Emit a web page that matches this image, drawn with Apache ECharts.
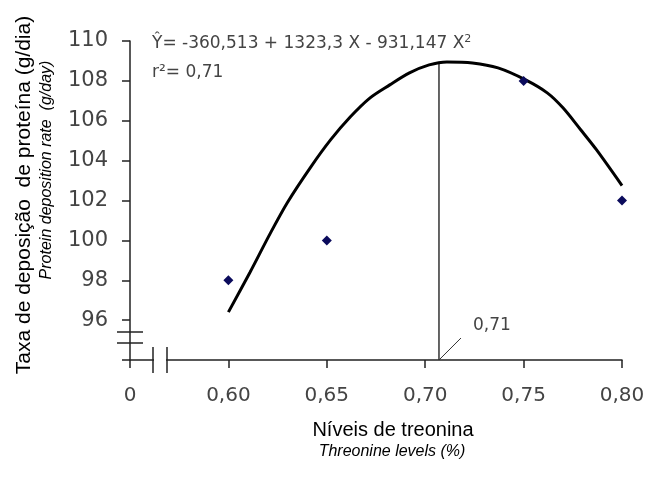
<!DOCTYPE html>
<html>
<head>
<meta charset="utf-8">
<script src="https://cdn.jsdelivr.net/npm/echarts@6/dist/echarts.min.js"></script>
<style>
  html, body { margin: 0; padding: 0; background: #fff; }
  #chart { width: 648px; height: 496px; }
</style>
</head>
<body>
<div id="chart"></div>
<script>
// observed means
var levels = [0.60, 0.65, 0.75, 0.80];
var deposition = [98.0, 100.0, 108.0, 102.0];

// fitted curve
var curveX = [0.600, 0.611, 0.621, 0.630, 0.642, 0.652, 0.662, 0.672, 0.682, 0.692, 0.702, 0.711, 0.724, 0.737, 0.751, 0.762, 0.770, 0.779, 0.787, 0.800];
var curveY = [96.4, 98.4, 100.3, 101.9, 103.7, 105.05, 106.2, 107.15, 107.8, 108.4, 108.8, 108.95, 108.9, 108.65, 108.05, 107.4, 106.65, 105.55, 104.55, 102.75];

// optimum level marker
var optimumX = 0.707;
var optimumY = 108.95;
var optimumLabel = "0,71";

var xMin = 0.55, xMax = 0.80, xStep = 0.05;
var yMin = 94, yMax = 110, yStep = 2;

var chartDom = document.getElementById("chart");
var myChart = echarts.init(chartDom);

var curveData = [];
for (var i = 0; i < curveX.length; i++) {
  curveData.push([curveX[i], curveY[i]]);
}
var pointData = [];
for (var j = 0; j < levels.length; j++) {
  pointData.push([levels[j], deposition[j]]);
}

var option = {
  animation: false,
  backgroundColor: "#fff",
  grid: {
    left: 130,
    right: 26,
    top: 41,
    bottom: 136,
    outerBoundsMode: "none"
  },
  xAxis: {
    type: "value",
    min: xMin,
    max: xMax,
    interval: xStep,
    splitLine: { show: false },
    axisLine: { lineStyle: { color: "#222", width: 1.5 } },
    axisTick: { inside: false, length: 8, lineStyle: { color: "#222", width: 1.5 } },
    axisLabel: {
      margin: 26,
      color: "#444",
      fontFamily: "DejaVu Sans",
      fontSize: 20,
      formatter: function (v) {
        if (v < xMin + xStep / 2) return "0";
        return v.toFixed(2).replace(".", ",");
      }
    }
  },
  yAxis: {
    type: "value",
    min: yMin,
    max: yMax,
    interval: yStep,
    splitLine: { show: false },
    axisLine: { lineStyle: { color: "#222", width: 1.5 } },
    axisTick: { inside: false, length: 8, lineStyle: { color: "#222", width: 1.5 } },
    axisLabel: {
      margin: 22,
      color: "#444",
      fontFamily: "DejaVu Sans",
      fontSize: 21,
      formatter: function (v) {
        if (v === yMin) return "";
        return String(v);
      }
    }
  },
  series: [
    {
      type: "line",
      data: curveData,
      smooth: 0.3,
      showSymbol: false,
      lineStyle: { color: "#000", width: 3 },
      z: 3
    },
    {
      type: "scatter",
      data: pointData,
      symbol: "diamond",
      symbolSize: 10,
      itemStyle: { color: "#0b0b5c", opacity: 1 },
      z: 4
    },
    {
      type: "line",
      data: [[optimumX, yMin], [optimumX, optimumY]],
      showSymbol: false,
      lineStyle: { color: "#333", width: 1.5 },
      z: 2
    }
  ]
};

option && myChart.setOption(option);

// break marks, label pointer and texts placed from the axis origin
var o = myChart.convertToPixel({ gridIndex: 0 }, [xMin, yMin]);
var opt = myChart.convertToPixel({ gridIndex: 0 }, [optimumX, yMin]);
var ox = o[0], oy = o[1];
var brk = { stroke: "#222", lineWidth: 1.5 };

myChart.setOption({
  graphic: [
    // x axis gap
    { type: "rect", shape: { x: ox + 24, y: oy - 3, width: 12, height: 6 }, style: { fill: "#fff" }, z: 100 },
    { type: "line", shape: { x1: ox + 23, y1: oy - 13, x2: ox + 23, y2: oy + 13 }, style: brk, z: 101 },
    { type: "line", shape: { x1: ox + 37, y1: oy - 13, x2: ox + 37, y2: oy + 13 }, style: brk, z: 101 },
    // y axis break
    { type: "line", shape: { x1: ox - 13, y1: oy - 28, x2: ox + 13, y2: oy - 28 }, style: brk, z: 101 },
    { type: "line", shape: { x1: ox - 13, y1: oy - 17, x2: ox + 13, y2: oy - 17 }, style: brk, z: 101 },
    // pointer to optimum
    { type: "line", shape: { x1: opt[0], y1: opt[1], x2: opt[0] + 22, y2: opt[1] - 22 }, style: { stroke: "#333", lineWidth: 1 }, z: 101 },
    {
      type: "text", left: opt[0] + 34, top: opt[1] - 43,
      style: { text: optimumLabel, fill: "#444", font: "17px 'DejaVu Sans'" }, z: 101
    },
    // regression equation
    {
      type: "text", left: 152, top: 34,
      style: {
        text: "{t|Ŷ= -360,513 + 1323,3 X - 931,147 X}{s|2}",
        rich: {
          t: { fill: "#444", fontFamily: "DejaVu Sans", fontSize: 17 },
          s: { fill: "#444", fontFamily: "DejaVu Sans", fontSize: 11, verticalAlign: "top", padding: [0, 0, 8, 0] }
        }
      }
    },
    {
      type: "text", left: 152, top: 64,
      style: { text: "r²= 0,71", fill: "#444", font: "17px 'DejaVu Sans'" }
    },
    // axis titles
    {
      type: "text", x: 24, y: 195, rotation: Math.PI / 2,
      style: { text: "Taxa de deposição  de proteína (g/dia)", fill: "#000", font: "21px 'Liberation Sans'", textAlign: "center", textVerticalAlign: "middle" }
    },
    {
      type: "text", x: 47, y: 170, rotation: Math.PI / 2,
      style: { text: "Protein deposition rate  (g/day)", fill: "#000", font: "italic 16px 'Liberation Sans'", textAlign: "center", textVerticalAlign: "middle" }
    },
    {
      type: "text", x: 393, y: 430,
      style: { text: "Níveis de treonina", fill: "#000", font: "20px 'Liberation Sans'", textAlign: "center", textVerticalAlign: "middle" }
    },
    {
      type: "text", x: 392, y: 452,
      style: { text: "Threonine levels (%)", fill: "#000", font: "italic 16px 'Liberation Sans'", textAlign: "center", textVerticalAlign: "middle" }
    }
  ]
});
</script>
</body>
</html>
